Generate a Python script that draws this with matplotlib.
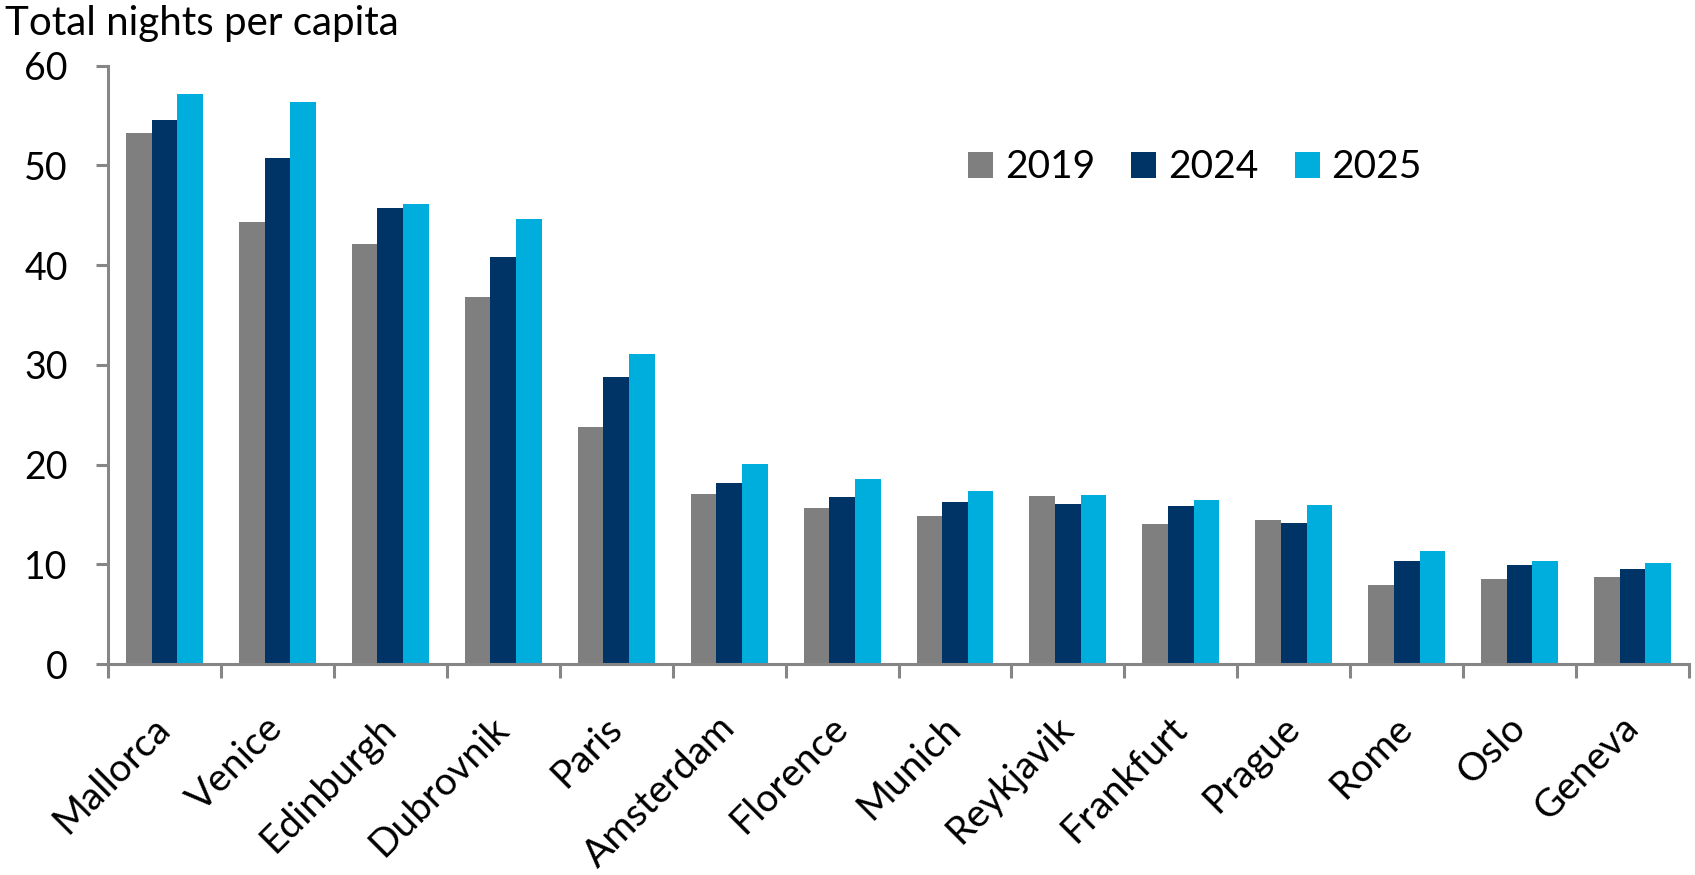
import numpy as np
import matplotlib
matplotlib.use("Agg")
import matplotlib.pyplot as plt

plt.rcParams['font.family'] = ['Lato', 'DejaVu Sans']

cities = ["Mallorca", "Venice", "Edinburgh", "Dubrovnik", "Paris", "Amsterdam",
          "Florence", "Munich", "Reykjavik", "Frankfurt", "Prague", "Rome",
          "Oslo", "Geneva"]
nights_2019 = [53.3, 44.3, 42.1, 36.8, 23.8, 17.1, 15.6, 14.8, 16.9, 14.0, 14.4, 7.9, 8.5, 8.7]
nights_2024 = [54.6, 50.7, 45.7, 40.8, 28.8, 18.2, 16.8, 16.2, 16.0, 15.8, 14.1, 10.3, 9.9, 9.5]
nights_2025 = [57.2, 56.4, 46.1, 44.6, 31.1, 20.1, 18.6, 17.4, 17.0, 16.4, 15.9, 11.3, 10.3, 10.1]
years = ["2019", "2024", "2025"]
colors = ["#7F7F7F", "#003366", "#00AEDD"]
yticks = [0, 10, 20, 30, 40, 50, 60]

fig = plt.figure(figsize=(16.95, 8.75), dpi=100)
ax = fig.add_axes([0.0637, 0.2411, 0.9328, 0.6838])

x = np.arange(len(cities))
w = 0.227
for i, (vals, c, lab) in enumerate(zip([nights_2019, nights_2024, nights_2025], colors, years)):
    ax.bar(x + (i - 1) * w, vals, width=w, color=c, label=lab, zorder=2)

ax.set_xlim(-0.5, len(cities) - 0.5)
ax.set_ylim(0, 60)

spine_c = "#868686"
for s in ["top", "right"]:
    ax.spines[s].set_visible(False)
for s in ["left", "bottom"]:
    ax.spines[s].set_color(spine_c)
    ax.spines[s].set_linewidth(2.2)

ax.set_yticks(yticks)
ax.set_yticklabels([str(t) for t in yticks], fontsize=27)
ax.tick_params(axis="y", direction="out", length=9, width=2.2, color=spine_c, pad=20)

# category boundary ticks on the x axis, labels at category centres
ax.set_xticks(np.arange(len(cities) + 1) - 0.5)
ax.set_xticklabels([])
ax.tick_params(axis="x", which="major", direction="out", length=10, width=2.2, color=spine_c)
ax.set_xticks(x, minor=True)
ax.set_xticklabels(cities, minor=True, fontsize=28, rotation=45,
                   ha="right", va="center", rotation_mode="anchor")
ax.tick_params(axis="x", which="minor", length=0, pad=42)

fig.text(0.003, 0.960, "Total nights per capita", fontsize=29, ha="left", va="baseline")

leg = ax.legend(loc="center", bbox_to_anchor=(0.705, 0.8086), bbox_transform=fig.transFigure,
                ncol=3, frameon=False, fontsize=28, handlelength=0.64, handleheight=0.64,
                handletextpad=0.31, columnspacing=0.93)

fig.savefig("out.png", dpi=100)
